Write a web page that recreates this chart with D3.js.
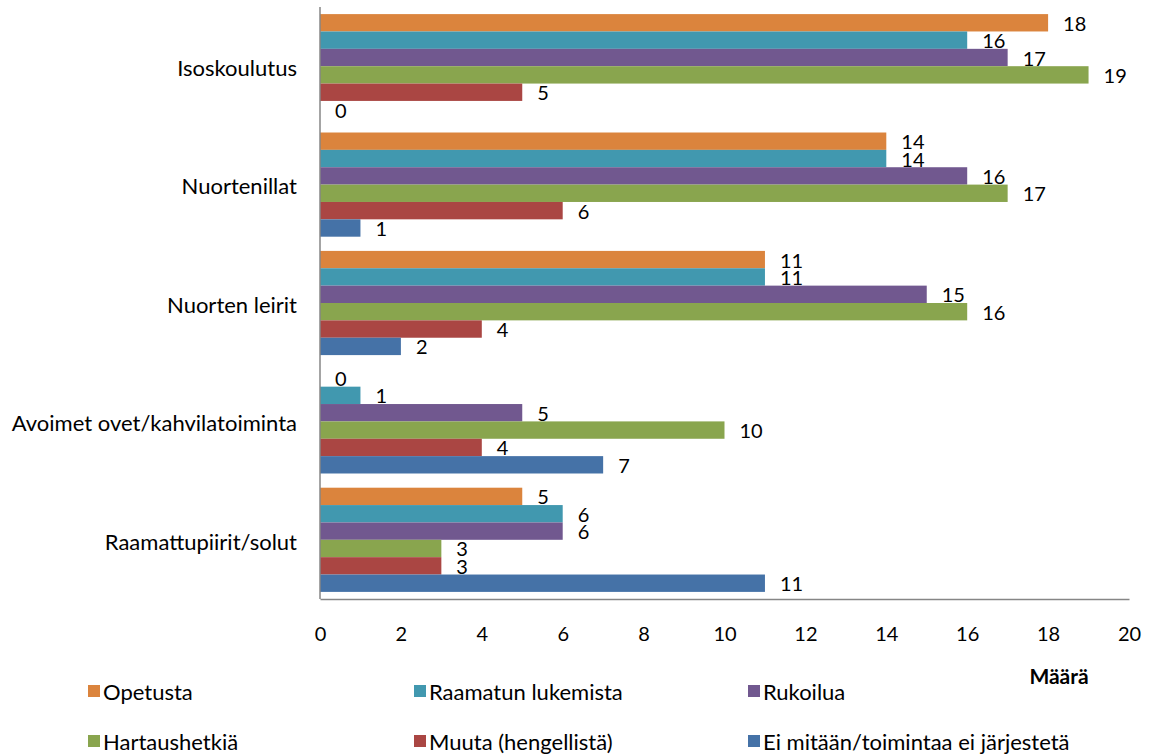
<!DOCTYPE html>
<html><head><meta charset="utf-8">
<script src="https://cdn.jsdelivr.net/npm/d3@7"></script>
<style>body{margin:0;background:#fff}</style>
</head><body>
<svg id="c" width="1151" height="755"></svg>
<script>
const categories = ["Isoskoulutus","Nuortenillat","Nuorten leirit","Avoimet ovet/kahvilatoiminta","Raamattupiirit/solut"];
const seriesNames = ["Opetusta","Raamatun lukemista","Rukoilua","Hartaushetkiä","Muuta (hengellistä)","Ei mitään/toimintaa ei järjestetä"];
const opetusta = [18,14,11,0,5];
const raamatun = [16,14,11,1,6];
const rukoilua = [17,16,15,5,6];
const hartaus = [19,17,16,10,3];
const muuta = [5,6,4,4,3];
const eiMitaan = [0,1,2,7,11];
const xTicks = [0,2,4,6,8,10,12,14,16,18,20];
const colors = ["#DB843D","#4198AF","#71588F","#89A54E","#AA4643","#4572A7"];
const seriesValues = [opetusta,raamatun,rukoilua,hartaus,muuta,eiMitaan];

const font = "Lato, 'Open Sans', sans-serif";
const svg = d3.select("#c");
const x = d3.scaleLinear().domain([0,20]).range([320,1129]);
const y0 = d3.scaleBand().domain(categories).range([7,599]).paddingInner(0.12).paddingOuter(0.06);
const y1 = d3.scaleBand().domain(seriesNames).range([0,y0.bandwidth()]);

const g = svg.append("g");
categories.forEach((cat,ci)=>{
  const grp = g.append("g").attr("transform",`translate(0,${y0(cat)})`);
  seriesNames.forEach((s,si)=>{
    const v = seriesValues[si][ci];
    grp.append("rect").attr("x",x(0)).attr("y",y1(s)).attr("width",x(v)-x(0)).attr("height",y1.bandwidth())
      .attr("fill",colors[si]);
    grp.append("text").attr("x",x(v)+15).attr("y",y1(s)+y1.bandwidth()/2+1).attr("dy","0.35em")
      .attr("font-family",font).attr("font-size",20).attr("fill","#000").text(v);
  });
  svg.append("text").attr("x",297).attr("y",y0(cat)+y0.bandwidth()/2+2).attr("dy","0.35em")
    .attr("text-anchor","end").attr("font-family",font).attr("font-size",22).text(cat);
});

// axes
const xAxis = d3.axisBottom(x).tickValues(xTicks).tickSize(0).tickPadding(28);
const ax = svg.append("g").attr("transform","translate(0,599)").call(xAxis);
ax.select(".domain").attr("stroke","#868686").attr("stroke-width",1.5);
ax.selectAll("text").attr("font-family",font).attr("font-size",20).attr("fill","#000");
const yAxis = d3.axisLeft(y0).tickSize(0).tickFormat("");
const ay = svg.append("g").attr("transform","translate(320,0)").call(yAxis);
ay.select(".domain").attr("stroke","#868686").attr("stroke-width",1.5).attr("d","M0,7V599");

svg.append("text").attr("x",1059).attr("y",684).attr("text-anchor","middle").attr("font-family",font)
  .attr("font-size",21).attr("font-weight","bold").text("Määrä");

// legend
const legX = [88,414,748];
const legY = [691,741];
seriesNames.forEach((s,i)=>{
  const lx = legX[i%3], ly = legY[Math.floor(i/3)];
  svg.append("rect").attr("x",lx).attr("y",ly-6).attr("width",12).attr("height",12).attr("fill",colors[i]);
  svg.append("text").attr("x",lx+15).attr("y",ly+1).attr("dy","0.35em").attr("font-family",font)
    .attr("font-size",22).text(s);
});
</script>
</body></html>
